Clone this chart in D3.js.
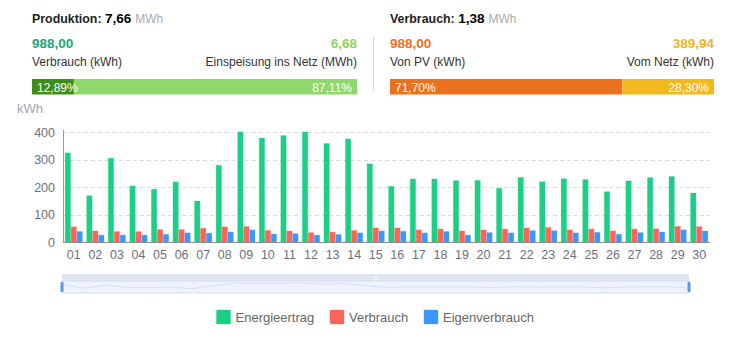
<!DOCTYPE html>
<html lang="de">
<head>
<meta charset="UTF-8">
<title>Produktion / Verbrauch</title>
<script src="https://d3js.org/d3.v7.min.js"></script>
<style>
  html, body { margin: 0; background: #fff; overflow: hidden; }
  svg { font-family: "Liberation Sans", Arial, sans-serif; }
</style>
</head>
<body>
<svg id="svg"></svg>
<script>
const days = ['01','02','03','04','05','06','07','08','09','10','11','12','13','14','15',
              '16','17','18','19','20','21','22','23','24','25','26','27','28','29','30'];
const energieertrag = [324,168,305,204,192,218,149,279,400,378,387,400,358,375,284,
                       202,229,229,223,224,195,235,219,230,227,183,222,234,238,178];
const verbrauch = [55,40,38,38,45,45,50,55,56,42,40,34,36,42,51,
                   51,44,47,40,44,47,51,53,44,47,40,47,48,57,56];
const eigenverbrauch = [38,25,25,25,28,33,32,36,44,29,30,25,27,33,40,
                        39,33,38,25,34,33,41,41,33,35,28,34,36,44,40];
const yTicks = [0, 100, 200, 300, 400];
const seriesNames = ['Energieertrag', 'Verbrauch', 'Eigenverbrauch'];
const seriesColors = ['#1bcf85', '#fb6558', '#3a98fd'];

// header panels
const panels = [
  { x: 32, w: 325, title: 'Produktion:', total: '7,66', unit: 'MWh',
    leftVal: '988,00', rightVal: '6,68', leftLbl: 'Verbrauch (kWh)', rightLbl: 'Einspeisung ins Netz (MWh)',
    leftPct: 12.89, rightPct: 87.11, leftCol: '#1fa679', rightCol: '#8fd45f',
    barLeft: '#3d8e17', barRight: '#8fd86b' },
  { x: 390, w: 324, title: 'Verbrauch:', total: '1,38', unit: 'MWh',
    leftVal: '988,00', rightVal: '389,94', leftLbl: 'Von PV (kWh)', rightLbl: 'Vom Netz (kWh)',
    leftPct: 71.70, rightPct: 28.30, leftCol: '#ef6f24', rightCol: '#eeb425',
    barLeft: '#ec711e', barRight: '#efb91f' }
];

const width = 741, height = 351;
const svg = d3.select('#svg').attr('width', width).attr('height', height);
const fmt = v => v.toFixed(2).replace('.', ',') + '%';

panels.forEach(p => {
  const g = svg.append('g').attr('transform', `translate(${p.x},0)`);
  const t = g.append('text').attr('y', 23).attr('fill', '#222');
  t.append('tspan').attr('font-size', 12.4).attr('font-weight', 'bold').text(p.title + ' ');
  t.append('tspan').attr('font-size', 13.5).attr('font-weight', 'bold').attr('fill', '#000').text(p.total);
  t.append('tspan').attr('font-size', 12).attr('fill', '#aaa').attr('dx', 4).text(p.unit);

  g.append('text').attr('y', 48).attr('font-size', 13.5).attr('font-weight', 'bold')
    .attr('fill', p.leftCol).text(p.leftVal);
  g.append('text').attr('x', p.w).attr('y', 48).attr('text-anchor', 'end').attr('font-size', 13.5)
    .attr('font-weight', 'bold').attr('fill', p.rightCol).text(p.rightVal);
  g.append('text').attr('y', 66).attr('font-size', 12).attr('fill', '#333').text(p.leftLbl);
  g.append('text').attr('x', p.w).attr('y', 66).attr('text-anchor', 'end').attr('font-size', 12)
    .attr('fill', '#333').text(p.rightLbl);

  const px = d3.scaleLinear().domain([0, 100]).range([0, p.w]);
  g.append('rect').attr('x', 0).attr('y', 79).attr('width', px(p.leftPct)).attr('height', 15.5).attr('fill', p.barLeft);
  g.append('rect').attr('x', px(p.leftPct)).attr('y', 79).attr('width', p.w - px(p.leftPct)).attr('height', 15.5).attr('fill', p.barRight);
  g.append('text').attr('x', 5).attr('y', 91.5).attr('font-size', 12).attr('fill', '#fff').text(fmt(p.leftPct));
  g.append('text').attr('x', p.w - 5).attr('y', 91.5).attr('text-anchor', 'end').attr('font-size', 12)
    .attr('fill', '#fff').text(fmt(p.rightPct));
});

// separator
svg.append('line').attr('x1', 373.5).attr('x2', 373.5).attr('y1', 36).attr('y2', 91)
  .attr('stroke', '#d9d9d9').attr('stroke-width', 1);

// chart
const x = d3.scaleBand().domain(days).range([63, 710]);
const bw = x.bandwidth();
const xs = d3.scaleBand().domain(seriesNames).range([bw * 0.1, bw * 0.9]).paddingInner(0.1);
const y = d3.scaleLinear().domain([0, 400]).range([242, 132]);

svg.append('text').attr('x', 17).attr('y', 113).attr('font-size', 13).attr('fill', '#a3a6ad').text('kWh');

svg.append('g').selectAll('line').data(yTicks.filter(d => d > 0)).join('line')
  .attr('x1', 63).attr('x2', 710).attr('y1', d => Math.round(y(d)) + 0.5).attr('y2', d => Math.round(y(d)) + 0.5)
  .attr('stroke', '#dcdcdc').attr('stroke-dasharray', '4,3');

svg.append('g').selectAll('text').data(yTicks).join('text')
  .attr('x', 55).attr('y', d => y(d) + 4.5).attr('text-anchor', 'end')
  .attr('font-size', 12.5).attr('fill', '#6e7079').text(d => d);

const seriesData = [energieertrag, verbrauch, eigenverbrauch];
seriesData.forEach((vals, si) => {
  svg.append('g').selectAll('rect').data(vals).join('rect')
    .attr('x', (d, i) => x(days[i]) + xs(seriesNames[si]))
    .attr('y', d => y(d))
    .attr('width', xs.bandwidth())
    .attr('height', d => 242 - y(d))
    .attr('fill', seriesColors[si])
    .attr('stroke', seriesColors[si]).attr('stroke-opacity', 0.3).attr('stroke-width', 1);
});

// axis lines
svg.append('line').attr('x1', 63.5).attr('x2', 63.5).attr('y1', 130).attr('y2', 242)
  .attr('stroke', '#9a9a9a');
svg.append('line').attr('x1', 63).attr('x2', 710).attr('y1', 242.5).attr('y2', 242.5)
  .attr('stroke', '#8c8c8c').attr('stroke-width', 1.2);

svg.append('g').selectAll('text').data(days).join('text')
  .attr('x', d => x(d) + bw / 2).attr('y', 259).attr('text-anchor', 'middle')
  .attr('font-size', 12.5).attr('fill', '#6e7079').text(d => d);

// data zoom slider
const sx = d3.scaleLinear().domain([0, days.length - 1]).range([62, 689]);
const sy = d3.scaleLinear().domain([0, 400]).range([292, 283]);
svg.append('rect').attr('x', 62).attr('y', 274).attr('width', 627).attr('height', 7).attr('fill', '#dfe5f1');
svg.append('rect').attr('x', 62).attr('y', 281).attr('width', 627).attr('height', 12)
  .attr('fill', '#eef3fe').attr('stroke', '#d3dbeb').attr('stroke-width', 1);
svg.append('path').datum(energieertrag)
  .attr('d', d3.line().x((d, i) => sx(i)).y(d => sy(d)))
  .attr('fill', 'none').attr('stroke', '#d5def3').attr('stroke-width', 1);
svg.append('text').attr('x', 375.5).attr('y', 279.5).attr('text-anchor', 'middle')
  .attr('font-size', 6).attr('fill', '#fff').text('|||');
[62, 689].forEach(hx => {
  svg.append('rect').attr('x', hx - 1.5).attr('y', 282).attr('width', 3).attr('height', 10).attr('rx', 1)
    .attr('fill', '#5b93e6');
});

// legend
const legendX = [216.5, 330, 424];
const lg = svg.append('g').selectAll('g').data(seriesNames).join('g')
  .attr('transform', (d, i) => `translate(${legendX[i]},310)`);
lg.append('rect').attr('width', 14).attr('height', 14).attr('rx', 1)
  .attr('fill', (d, i) => seriesColors[i])
  .attr('stroke', (d, i) => seriesColors[i]).attr('stroke-opacity', 0.35);
lg.append('text').attr('x', 19).attr('y', 11.5).attr('font-size', 13).attr('fill', '#666').text(d => d);
</script>
</body>
</html>
